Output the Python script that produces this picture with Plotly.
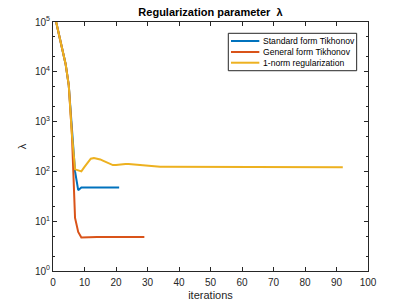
import plotly.graph_objects as go

# Data
std_iter = list(range(1, 22))
std_vals = [100000, 54800, 28700, 14400, 5430, 564, 100, 42,
            47.5, 47.5, 47.5, 47.5, 47.5, 47.5, 47.5, 47.5, 47.5, 47.5, 47.5, 47.5, 47.5]

gen_iter = list(range(1, 30))
gen_vals = [100000, 54800, 28700, 14400, 5430, 564, 11.6, 6.1, 4.7,
            4.75, 4.8, 4.8, 4.8, 4.8, 4.8, 4.8, 4.8, 4.8, 4.8, 4.8,
            4.8, 4.8, 4.8, 4.8, 4.8, 4.8, 4.8, 4.8, 4.8]

one_iter = list(range(1, 93))
one_vals = [100000, 54800, 28700, 14400, 5430, 564, 110, 105, 100, 123,
            153, 180, 186, 181, 174, 163, 151, 141, 134, 134,
            137, 140, 141, 141, 139, 137, 134, 131, 129, 127,
            126, 125, 124, 124, 124, 124, 124, 124, 124, 124,
            124, 124, 124, 123, 123, 123, 123, 123, 123, 123,
            123, 123, 122, 122, 122, 122, 122, 122, 122, 122,
            122, 122, 122, 122, 122, 122, 122, 122, 122, 122,
            122, 122, 122, 122, 121, 121, 121, 121, 121, 121,
            121, 121, 121, 121, 121, 121, 121, 121, 121, 121,
            121, 121]

y_tickvals = [1, 10, 100, 1000, 10000, 100000]
y_ticktext = ["10<sup>0</sup>", "10<sup>1</sup>", "10<sup>2</sup>",
              "10<sup>3</sup>", "10<sup>4</sup>", "10<sup>5</sup>"]

names = ["Standard form Tikhonov", "General form Tikhonov", "1-norm regularization"]
colors = ["#0072BD", "#D95319", "#EDB120"]

fig = go.Figure()
for xs, ys, nm, c in zip([std_iter, gen_iter, one_iter], [std_vals, gen_vals, one_vals], names, colors):
    fig.add_trace(go.Scatter(x=xs, y=ys, mode="lines", name=nm,
                             line=dict(color=c, width=2), showlegend=False))

# Legend box (MATLAB style, compact rows)
leg_x0, leg_x1, leg_y0, leg_y1 = 0.5565, 0.964, 0.8044, 0.9546
line_x0, line_x1, text_x = 0.565, 0.655, 0.660
row_y = [0.9237, 0.8795, 0.8365]
shapes = [dict(type="rect", xref="paper", yref="paper", x0=leg_x0, x1=leg_x1,
               y0=leg_y0, y1=leg_y1, line=dict(color="#262626", width=1),
               fillcolor="white", layer="above")]
annotations = []
for nm, c, ry in zip(names, colors, row_y):
    shapes.append(dict(type="line", xref="paper", yref="paper", x0=line_x0, x1=line_x1,
                       y0=ry, y1=ry, line=dict(color=c, width=2), layer="above"))
    annotations.append(dict(xref="paper", yref="paper", x=text_x, y=ry, text=nm,
                            showarrow=False, xanchor="left", yanchor="middle",
                            font=dict(size=8.6, color="black")))

axis_common = dict(showline=True, linecolor="#262626", linewidth=1, mirror="ticks",
                   ticks="inside", tickcolor="#262626", ticklen=4, showgrid=False,
                   zeroline=False, automargin=False,
                   tickfont=dict(size=10, color="#262626"))

fig.update_layout(
    width=407, height=305,
    margin=dict(l=53, r=39, t=22, b=34),
    paper_bgcolor="white", plot_bgcolor="white",
    font=dict(family="Liberation Sans, Arial, sans-serif", color="#262626"),
    title=dict(text="<b>Regularization parameter  λ</b>", x=0.5, xanchor="center",
               xref="paper", y=1 - 12 / 305, yanchor="middle",
               font=dict(size=11, color="black")),
    xaxis=dict(range=[0, 100], dtick=10, ticklabelstandoff=2,
               title=dict(text="iterations", font=dict(size=11), standoff=4),
               **axis_common),
    yaxis=dict(type="log", range=[0, 5], tickvals=y_tickvals, ticktext=y_ticktext,
               title=dict(text="λ", font=dict(size=11), standoff=6),
               minor=dict(ticks="inside", ticklen=2, tickcolor="#262626", showgrid=False),
               **axis_common),
    shapes=shapes,
    annotations=annotations,
    showlegend=False,
)

fig.write_html("out.html", config={"displayModeBar": False},
               post_script="document.body.style.margin='0';")
